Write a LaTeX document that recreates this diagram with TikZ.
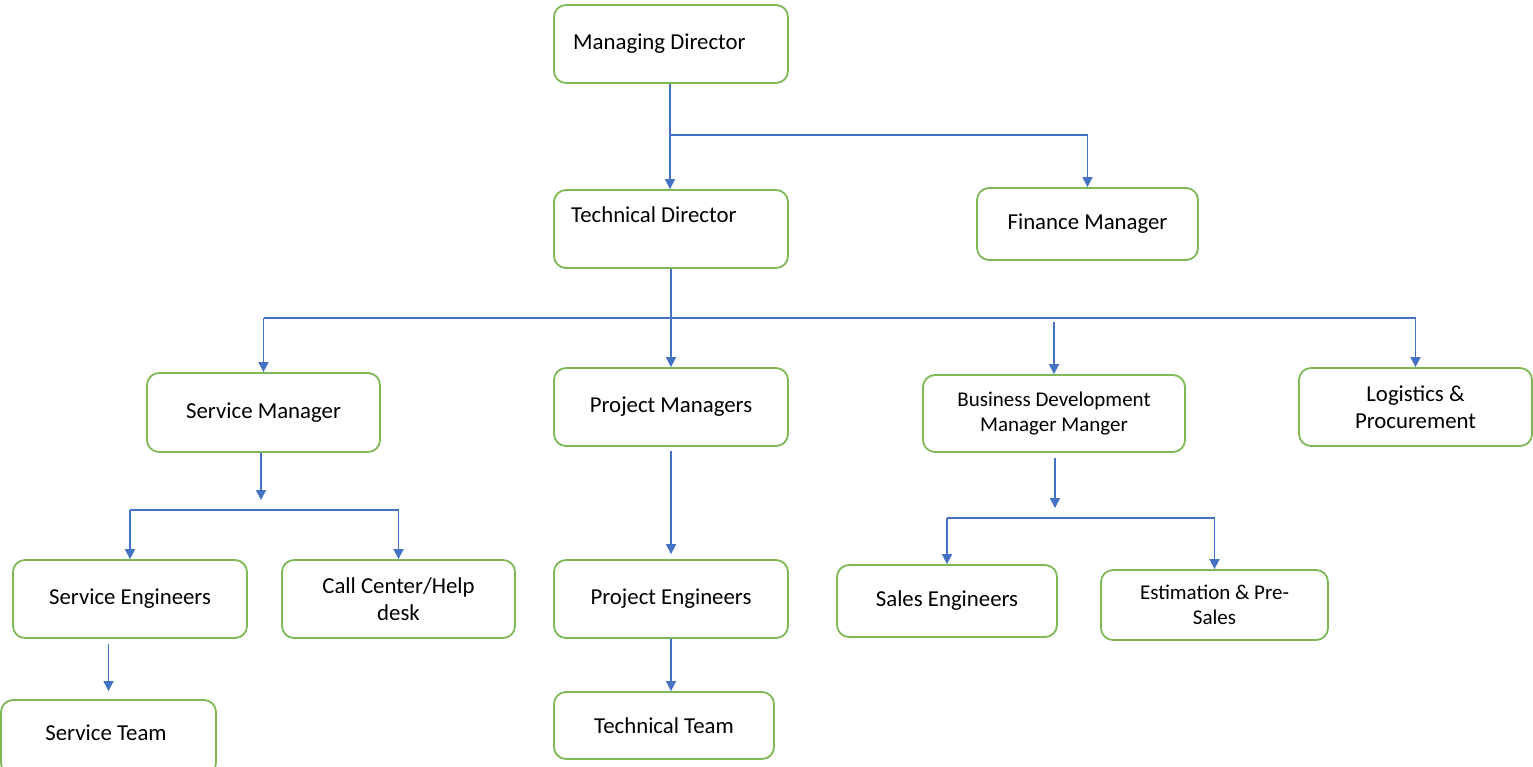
\documentclass[tikz,border=0pt]{standalone}
\usepackage{fontspec}
\setmainfont{Carlito}
\usetikzlibrary{arrows.meta,calc}
\definecolor{boxgreen}{HTML}{7DB955}
\definecolor{lineblue}{HTML}{4472C4}
\begin{document}
\begin{tikzpicture}[x=1pt,y=-1pt,
  box/.style={draw=boxgreen, line width=1.8pt, rounded corners=12pt, fill=white,
    inner sep=0pt, align=center, font=\fontsize{22.8pt}{27pt}\selectfont},
  smalltext/.style={font=\fontsize{21pt}{25pt}\selectfont},
  lbl/.style={inner sep=0pt, font=\fontsize{22.8pt}{27pt}\selectfont},
  conn/.style={draw=lineblue, line width=1.6pt},
  arr/.style={conn, -{Triangle[width=10pt,length=10pt]}}]
\useasboundingbox (0,0) rectangle (1533,766);
\fill[white] (0,0) rectangle (1533,766);

% boxes
\node[box, minimum width=234pt, minimum height=78pt] (md) at (671,44) {};
\node[lbl, anchor=west] (mdt) at (573,44) {Managing Director};
\node[box, minimum width=234pt, minimum height=78pt] (td) at (671,229) {};
\node[lbl, anchor=west] (tdt) at (571,215) {Technical Director};
\node[box, minimum width=221pt, minimum height=72pt] (fm) at (1087.5,224) {Finance Manager};
\node[box, minimum width=233pt, minimum height=79pt] (sm) at (263.5,412.5) {Service Manager};
\node[box, minimum width=234pt, minimum height=78pt] (pm) at (671,407) {Project Managers};
\node[box, smalltext, minimum width=262pt, minimum height=77pt] (bdm) at (1054,413.5) {Business Development\\Manager Manger};
\node[box, minimum width=233pt, minimum height=78pt] (lp) at (1415.5,407) {Logistics \&\\Procurement};
\node[box, minimum width=234pt, minimum height=78pt] (se) at (130,599) {Service Engineers};
\node[box, minimum width=233pt, minimum height=78pt] (cc) at (398.5,599) {Call Center/Help\\desk};
\node[box, minimum width=234pt, minimum height=78pt] (pe) at (671,599) {Project Engineers};
\node[box, minimum width=220pt, minimum height=72pt] (sales) at (947,601) {Sales Engineers};
\node[box, smalltext, minimum width=227pt, minimum height=70pt] (est) at (1214.5,605) {Estimation \& Pre-\\Sales};
\node[box, minimum width=215pt, minimum height=75pt] (st) at (108.5,737.5) {};
\node[lbl] (stt) at (106,733) {Service Team};
\node[box, minimum width=220pt, minimum height=67pt] (tt) at (664,725.5) {Technical Team};

% junction coordinates
\coordinate (j1) at (670,135);
\coordinate (j2) at (671,318);
\coordinate (k3) at (261,500);
\coordinate (j3) at (261,510);
\coordinate (k4) at (1055,508);
\coordinate (j4) at (1055,518);

% MD -> TD, FM
\draw[conn] (md.south -| j1) -- (j1);
\draw[arr] (j1) -- (j1 |- td.north);
\draw[arr] (j1) -| (fm.north);

% TD -> level 2
\draw[arr] (td.south) -- (pm.north);
\draw[conn] (sm.north |- j2) -- (lp.north |- j2);
\draw[arr] (sm.north |- j2) -- (sm.north);
\draw[arr] ([yshift=-4pt]bdm.north |- j2) -- (bdm.north);
\draw[arr] (lp.north |- j2) -- (lp.north);

% SM -> SE, CC
\draw[arr] (sm.south -| k3) -- (k3);
\draw[conn] (j3 -| se.north) -- (j3 -| cc.north);
\draw[arr] (j3 -| se.north) -- (se.north);
\draw[arr] (j3 -| cc.north) -- (cc.north);

% PM -> PE
\draw[arr, shorten <=4pt, shorten >=5pt] (pm.south) -- (pe.north);

% SE -> ST
\draw[arr, shorten <=5pt, shorten >=8pt] (st.north |- se.south) -- (st.north);

% PE -> TT
\draw[arr] (pe.south) -- (pe.south |- tt.north);

% BDM -> Sales, Est
\draw[arr, shorten <=5pt] (bdm.south -| k4) -- (k4);
\draw[conn] (j4 -| sales.north) -- (j4 -| est.north);
\draw[arr] (j4 -| sales.north) -- (sales.north);
\draw[arr] (j4 -| est.north) -- (est.north);
\end{tikzpicture}
\end{document}
